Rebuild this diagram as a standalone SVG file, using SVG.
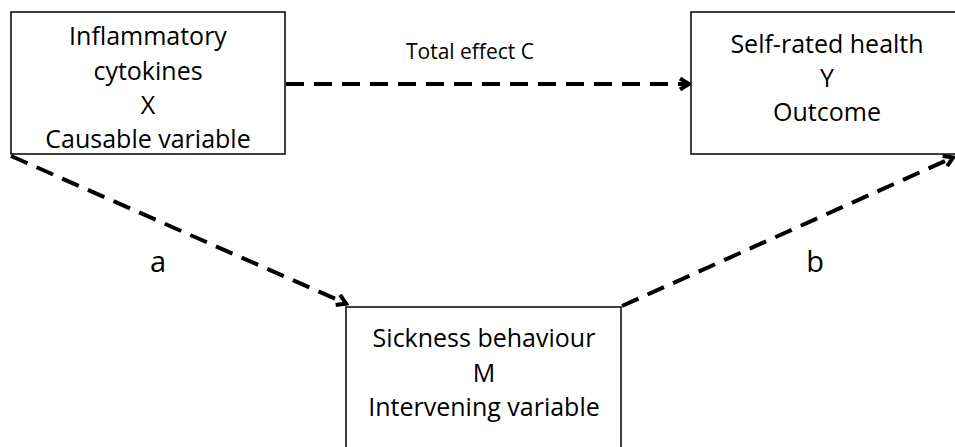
<svg xmlns="http://www.w3.org/2000/svg" width="955" height="447" viewBox="0 0 955 447">
<style>
.box{fill:#fff;stroke:#000;stroke-width:1.5}
.t{font-family:"Open Sans","Liberation Sans",sans-serif;font-size:25px;fill:#000;text-anchor:middle}
.s{font-family:"Open Sans","Liberation Sans",sans-serif;font-size:21px;fill:#000;text-anchor:middle}
.l{font-family:"Open Sans","Liberation Sans",sans-serif;font-size:29px;fill:#000;text-anchor:middle}
.c{fill:none;stroke:#000;stroke-width:4;stroke-dasharray:18 10}
</style>
<defs>
<marker id="ah" viewBox="0 0 14 14" refX="12" refY="7" markerWidth="14" markerHeight="14" markerUnits="userSpaceOnUse" orient="auto">
<path d="M2,1.5 L11,7 L2,12.5" fill="none" stroke="#000" stroke-width="4" stroke-linejoin="miter"/>
</marker>
</defs>
<g id="connectors">
<line class="c" x1="286" y1="84" x2="690" y2="84" marker-end="url(#ah)"/>
<line class="c" x1="11" y1="156" x2="347" y2="304" marker-end="url(#ah)"/>
<line class="c" x1="622" y1="306" x2="954" y2="157" marker-end="url(#ah)"/>
<text class="s" x="470" y="59">Total effect C</text>
<text class="l" x="158" y="272">a</text>
<text class="l" x="815" y="272">b</text>
</g>
<g id="nodeX">
<rect class="box" x="11" y="12" width="274" height="142"/>
<text class="t" x="148" y="45">Inflammatory</text>
<text class="t" x="148" y="80">cytokines</text>
<text class="t" x="148" y="114">X</text>
<text class="t" x="148" y="148">Causable variable</text>
</g>
<g id="nodeY">
<rect class="box" x="691" y="12" width="280" height="142"/>
<text class="t" x="827" y="53">Self-rated health</text>
<text class="t" x="827" y="87">Y</text>
<text class="t" x="827" y="121">Outcome</text>
</g>
<g id="nodeM">
<rect class="box" x="346" y="307" width="275" height="160"/>
<text class="t" x="484" y="347">Sickness behaviour</text>
<text class="t" x="484" y="382">M</text>
<text class="t" x="484" y="416">Intervening variable</text>
</g>
</svg>
